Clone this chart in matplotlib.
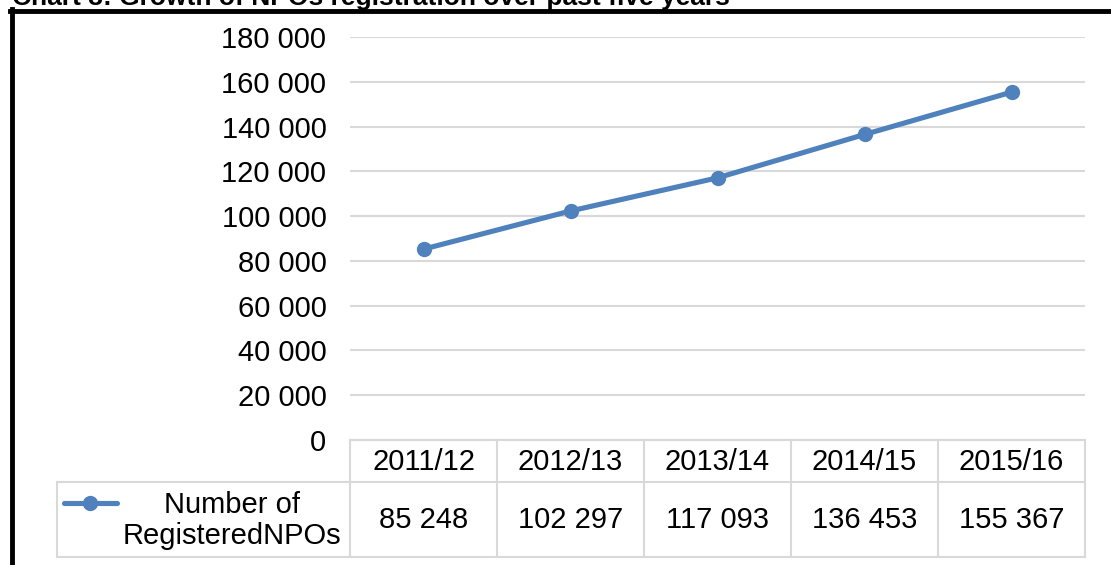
import matplotlib.pyplot as plt
from matplotlib.lines import Line2D

# data
years = ['2011/12', '2012/13', '2013/14', '2014/15', '2015/16']
npos = [85248, 102297, 117093, 136453, 155367]
series_name = 'Number of\nRegisteredNPOs'
title = 'Chart 3: Growth of NPOs registration over past five years'
yticks = [0, 20000, 40000, 60000, 80000, 100000, 120000, 140000, 160000, 180000]

W, H = 1111, 565
BLUE = '#4f81bd'
GRID = '#d9d9d9'

plt.rcParams['font.family'] = ['Liberation Sans', 'DejaVu Sans']


def fmt(v):
    return f'{v:,}'.replace(',', ' ')


def px_box(x0, y0, x1, y1):
    """pixel box (top-left origin) -> figure fraction rect"""
    return [x0 / W, 1 - y1 / H, (x1 - x0) / W, (y1 - y0) / H]


fig = plt.figure(figsize=(W / 100, H / 100), dpi=100)
fig.patch.set_facecolor('white')

# outer frame (only left and top edges visible)
fig.add_artist(Line2D([11.5 / W, 11.5 / W], [0, 1 - 9 / H], color='black',
                      lw=3.5, transform=fig.transFigure))
fig.add_artist(Line2D([9.5 / W, 1], [1 - 10.5 / H, 1 - 10.5 / H], color='black',
                      lw=3.5, transform=fig.transFigure))
# title, cut off by the top edge like in the source
fig.text(12 / W, 1 - 5 / H, title, fontsize=19, fontweight='bold',
         ha='left', va='baseline')

# line chart
x0, x1 = 350, 1085
ax = fig.add_axes(px_box(x0, 37, x1, 440))
xs = list(range(len(years)))
ax.plot(xs, npos, color=BLUE, lw=3.7, marker='o', markersize=10, zorder=3)
ax.set_xlim(-0.5, len(years) - 0.5)
ax.set_ylim(0, 180000)
ax.set_yticks(yticks)
ax.set_yticklabels([fmt(v) for v in yticks], fontsize=21)
ax.tick_params(axis='y', length=0, pad=17)
ax.set_xticks([])
ax.grid(axis='y', color=GRID, lw=1.5)
ax.set_axisbelow(True)
for s in ax.spines.values():
    s.set_visible(False)

# data table under the chart
tx0, ty0, ty1, ty2 = 57, 440, 482, 557
tab = fig.add_axes(px_box(tx0 - 2, ty0 - 2, x1 + 2, ty2 + 2))
tab.set_xlim(tx0 - 2, x1 + 2)
tab.set_ylim(ty2 + 2, ty0 - 2)
tab.axis('off')
colw = (x1 - x0) / len(years)
lk = dict(color=GRID, lw=1.5)
tab.plot([x0, x1], [ty0, ty0], **lk)
tab.plot([tx0, x1], [ty1, ty1], **lk)
tab.plot([tx0, x1], [ty2, ty2], **lk)
tab.plot([tx0, tx0], [ty1, ty2], **lk)
for i in range(len(years) + 1):
    xb = x0 + i * colw
    tab.plot([xb, xb], [ty0, ty2], **lk)
for i, (yr, v) in enumerate(zip(years, npos)):
    xc = x0 + (i + 0.5) * colw
    tab.text(xc, (ty0 + ty1) / 2 + 1, yr, fontsize=21, ha='center', va='center')
    tab.text(xc, (ty1 + ty2) / 2 + 1, fmt(v), fontsize=21, ha='center', va='center')

# legend key inside table
ky = 503
tab.plot([64, 117], [ky, ky], color=BLUE, lw=3.7, solid_capstyle='round')
tab.plot([90], [ky], color=BLUE, marker='o', markersize=10)
tab.text(232, (ty1 + ty2) / 2 + 1, series_name, fontsize=21, ha='center',
         va='center', linespacing=1.15)

fig.savefig('out.png', dpi=100)
